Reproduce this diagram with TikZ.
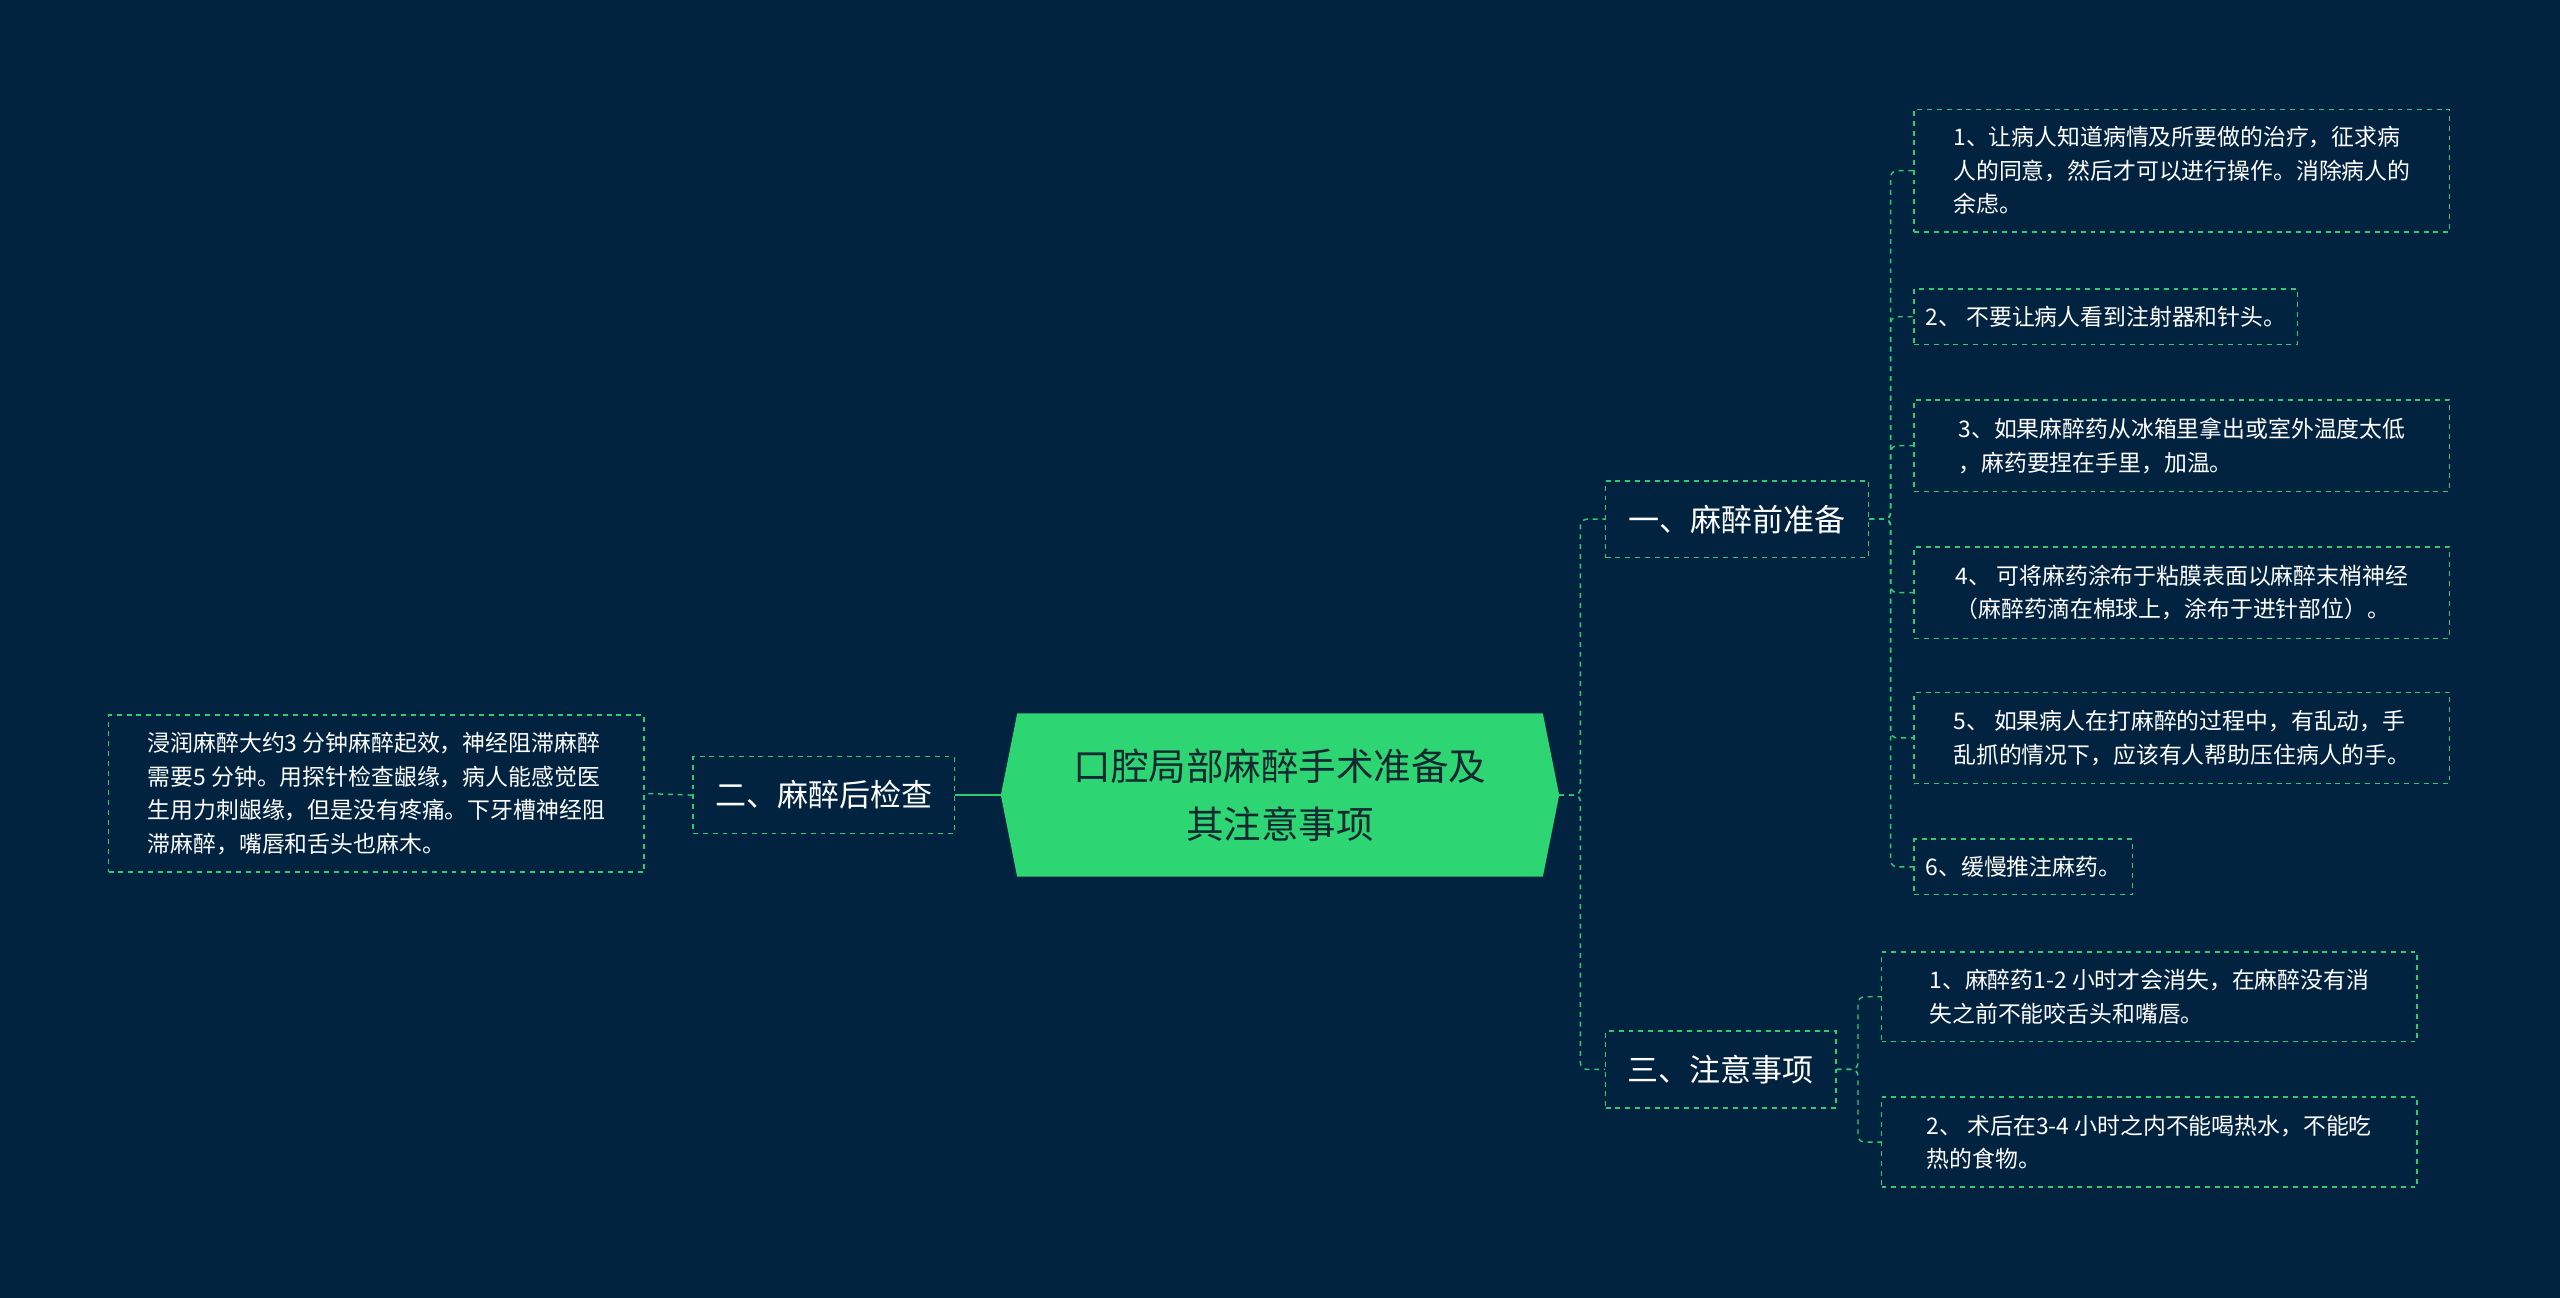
\documentclass[tikz,border=0pt]{standalone}
\usepackage{fontspec}
\setmainfont{Noto Sans CJK SC}
\definecolor{ln}{RGB}{46,204,113}
\begin{document}
\begin{tikzpicture}[x=1pt,y=-1pt,
  lk/.style={draw=ln,dashed,line width=0.9pt},
  leaf/.style={draw=ln,dashed,line width=0.9pt,text=white,align=left,inner xsep=7pt,inner ysep=5pt,font=\fontsize{14}{20.5}\selectfont,anchor=west},
  br/.style={draw=ln,dashed,line width=0.9pt,text=white,font=\fontsize{19}{24}\selectfont,minimum height=47pt,anchor=west,inner xsep=9pt}]
\fill[fill={rgb,255:red,1;green,35;blue,64}] (0,0) rectangle (1568,795);
\useasboundingbox (0,0) rectangle (1568,795);
\fill[fill={rgb,255:red,46;green,213;blue,115}] (623,437)--(945,437)--(955,487)--(945,537)--(623,537)--(613,487)--cycle;
\node[align=center,text={rgb,255:red,20;green,40;blue,50},font=\fontsize{23}{36}\selectfont] (c) at (784,487) {口腔局部麻醉手术准备及\\其注意事项};
\coordinate (cr) at (955,487);
\coordinate (cl) at (613,487);
\node[br,minimum width=161pt] (b1) at (983,318) {一、麻醉前准备};
\node[br,minimum width=141pt] (b3) at (983,655) {三、注意事项};
\node[br,minimum width=160pt,anchor=east] (b2) at (585,487) {二、麻醉后检查};
\node[leaf,anchor=east,minimum width=328pt,minimum height=96pt] (l0) at (395,486) {浸润麻醉大约3 分钟麻醉起效，神经阻滞麻醉\\需要5 分钟。用探针检查龈缘，病人能感觉医\\生用力刺龈缘，但是没有疼痛。下牙槽神经阻\\滞麻醉，嘴唇和舌头也麻木。};
\node[leaf,minimum width=328pt,minimum height=75pt] (a1) at (1172,104.5) {1、让病人知道病情及所要做的治疗，征求病\\人的同意，然后才可以进行操作。消除病人的\\余虑。};
\node[leaf,minimum height=34pt] (a2) at (1172,194) {2、 不要让病人看到注射器和针头。};
\node[leaf,minimum width=328pt,minimum height=56pt] (a3) at (1172,273) {3、如果麻醉药从冰箱里拿出或室外温度太低\\，麻药要捏在手里，加温。};
\node[leaf,minimum width=328pt,minimum height=56pt] (a4) at (1172,363) {4、 可将麻药涂布于粘膜表面以麻醉末梢神经\\（麻醉药滴在棉球上，涂布于进针部位）。};
\node[leaf,minimum width=328pt,minimum height=56pt] (a5) at (1172,452) {5、 如果病人在打麻醉的过程中，有乱动，手\\乱抓的情况下，应该有人帮助压住病人的手。};
\node[leaf,minimum height=34pt] (a6) at (1172,531) {6、缓慢推注麻药。};
\node[leaf,minimum width=328pt,minimum height=55pt] (d1) at (1152,610.5) {1、麻醉药1-2 小时才会消失，在麻醉没有消\\失之前不能咬舌头和嘴唇。};
\node[leaf,minimum width=328pt,minimum height=55pt] (d2) at (1152,699.5) {2、 术后在3-4 小时之内不能喝热水，不能吃\\热的食物。};
\draw[ln,line width=1.5pt] (cl) -- (b2.east);
\draw[lk] (b2.west) -- (l0.east);
\draw[lk,rounded corners=4pt] (cr) -- (968,487) |- (b1.west);
\draw[lk,rounded corners=4pt] (cr) -- (968,487) |- (b3.west);
\foreach \n in {a1,a2,a3,a4,a5,a6}{\draw[lk,rounded corners=4pt] (b1.east) -- (1158,318) |- (\n.west);}
\foreach \n in {d1,d2}{\draw[lk,rounded corners=4pt] (b3.east) -- (1138,655) |- (\n.west);}
\end{tikzpicture}
\end{document}
